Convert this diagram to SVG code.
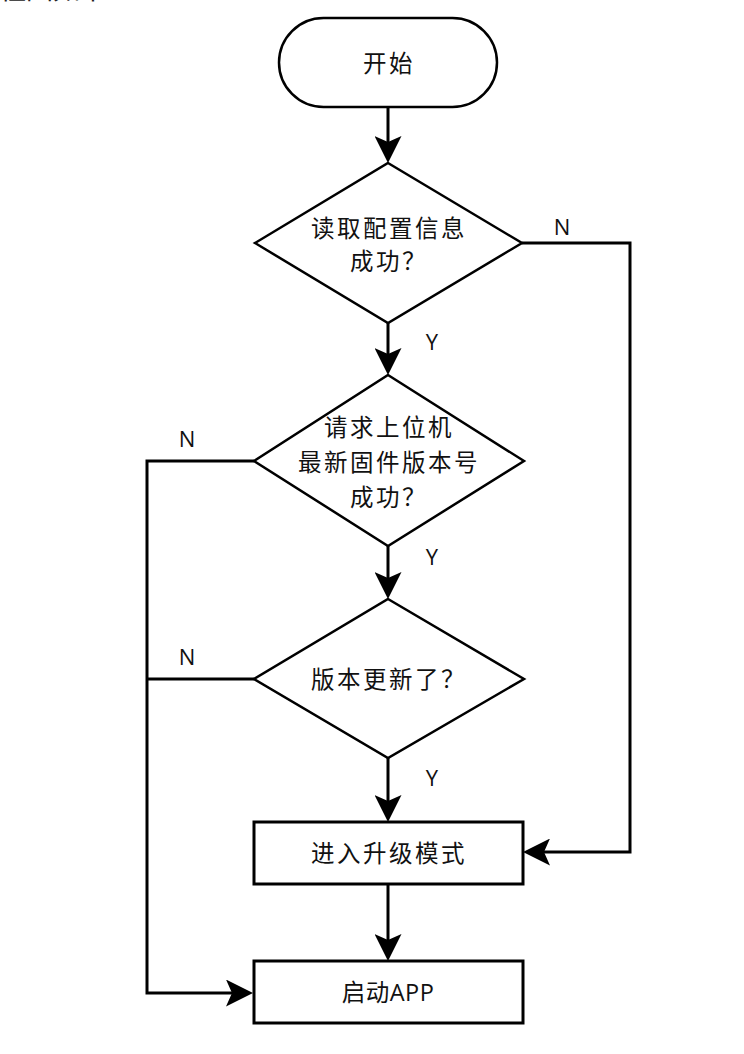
<svg xmlns="http://www.w3.org/2000/svg" width="744" height="1054" viewBox="0 0 744 1054">
<defs>
<style>
.shape{fill:#fff;stroke:#000;stroke-width:2.5}
.box{fill:#fff;stroke:#000;stroke-width:3}
.conn{fill:none;stroke:#000;stroke-width:3}
.t{font-family:"Open Sans","Noto Sans CJK SC",sans-serif;font-size:23.5px;fill:#111;text-anchor:middle;letter-spacing:2.5px}
.lbl{font-family:"Open Sans","Noto Sans CJK SC",sans-serif;font-size:22px;fill:#111;text-anchor:middle}
</style>
<marker id="ah" markerUnits="userSpaceOnUse" markerWidth="27" markerHeight="27" refX="17" refY="13.5" orient="auto" viewBox="0 0 27 27">
<path d="M0,0 L27,13.5 L0,27 L6,13.5 z" fill="#000"/>
</marker>
</defs>
<rect width="744" height="1054" fill="#fff"/>
<text x="-1" y="-1" style="font-family:'Noto Sans CJK SC',sans-serif;font-size:27px;fill:#222">程图如下：</text>
<g id="connectors">
<path class="conn" d="M388,107 V153" marker-end="url(#ah)"/>
<path class="conn" d="M388,323 V365" marker-end="url(#ah)"/>
<path class="conn" d="M388,546 V589" marker-end="url(#ah)"/>
<path class="conn" d="M388,758 V812" marker-end="url(#ah)"/>
<path class="conn" d="M388,884 V951" marker-end="url(#ah)"/>
<path class="conn" d="M522,243 H630 V852 H533" marker-end="url(#ah)"/>
<path class="conn" d="M254,461 H147 V993 H243" marker-end="url(#ah)"/>
<path class="conn" d="M254,679 H147"/>
<text class="lbl" x="562" y="235">N</text>
<text class="lbl" x="432" y="350">Y</text>
<text class="lbl" x="187" y="447">N</text>
<text class="lbl" x="432" y="565">Y</text>
<text class="lbl" x="187" y="665">N</text>
<text class="lbl" x="432" y="786">Y</text>
</g>
<g id="start">
<rect class="shape" x="279" y="18" width="218" height="89" rx="44.5" ry="44.5"/>
<text class="t" x="389" y="72">开始</text>
</g>
<g id="d1">
<polygon class="shape" points="388,163 522,243 388,323 255,243"/>
<text class="t" x="389" y="237">读取配置信息</text>
<text class="t" x="389" y="270">成功？</text>
</g>
<g id="d2">
<polygon class="shape" points="388,375 524,461 388,546 254,461"/>
<text class="t" x="389" y="436">请求上位机</text>
<text class="t" x="389" y="471">最新固件版本号</text>
<text class="t" x="389" y="506">成功？</text>
</g>
<g id="d3">
<polygon class="shape" points="388,599 524,679 388,758 254,679"/>
<text class="t" x="389" y="688">版本更新了？</text>
</g>
<g id="upgrade">
<rect class="box" x="254" y="822" width="269" height="62"/>
<text class="t" x="389" y="862">进入升级模式</text>
</g>
<g id="app">
<rect class="box" x="254" y="961" width="269" height="62"/>
<text class="t" x="388" y="1001" style="letter-spacing:0.5px">启动APP</text>
</g>
</svg>
